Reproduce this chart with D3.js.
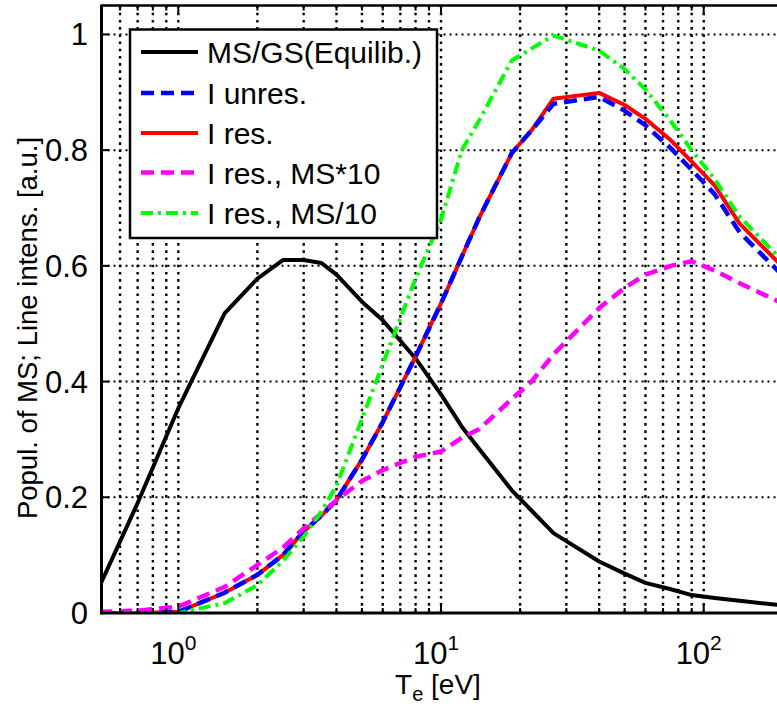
<!DOCTYPE html>
<html>
<head>
<meta charset="utf-8">
<script src="https://cdn.jsdelivr.net/npm/d3@7/dist/d3.min.js"></script>
<style>
  html, body { margin: 0; padding: 0; background: #fff; }
  svg { display: block; }
  text { font-family: "Liberation Sans", Arial, Helvetica, sans-serif; fill: #000; }
</style>
</head>
<body>
<svg id="chart" width="777" height="706"></svg>
<script>
// ---- data ----
const T = [0.5, 0.7, 1, 1.5, 2, 2.5, 3, 3.5, 4, 5, 6, 8, 10, 12, 14, 18.6, 22, 26.8, 40, 50, 60, 75, 90, 110, 137, 200];
const msgsEquilib = [0.045, 0.19, 0.354, 0.518, 0.578, 0.61, 0.61, 0.605, 0.585, 0.538, 0.506, 0.44, 0.378, 0.322, 0.283, 0.212, 0.178, 0.138, 0.089, 0.068, 0.052, 0.041, 0.031, 0.026, 0.021, 0.013];
const iUnres      = [0, 0, 0.002, 0.035, 0.066, 0.10, 0.141, 0.168, 0.195, 0.265, 0.33, 0.443, 0.535, 0.616, 0.684, 0.795, 0.833, 0.88, 0.892, 0.868, 0.843, 0.803, 0.766, 0.724, 0.658, 0.583];
const iRes        = [0, 0, 0.002, 0.035, 0.066, 0.10, 0.141, 0.168, 0.195, 0.265, 0.33, 0.443, 0.535, 0.616, 0.684, 0.795, 0.833, 0.889, 0.899, 0.878, 0.854, 0.817, 0.78, 0.739, 0.673, 0.598];
const iResMSx10   = [0.002, 0.004, 0.011, 0.045, 0.083, 0.113, 0.146, 0.172, 0.195, 0.228, 0.247, 0.27, 0.279, 0.303, 0.318, 0.37, 0.399, 0.447, 0.527, 0.562, 0.585, 0.60, 0.608, 0.592, 0.57, 0.535];
const iResMSdiv10 = [0, 0, 0, 0.017, 0.048, 0.09, 0.132, 0.175, 0.22, 0.335, 0.43, 0.578, 0.68, 0.80, 0.852, 0.955, 0.975, 0.998, 0.972, 0.94, 0.905, 0.85, 0.80, 0.75, 0.685, 0.608];
const seriesNames = ["MS/GS(Equilib.)", "I unres.", "I res.", "I res., MS*10", "I res., MS/10"];
const yTickLabels = ["0", "0.2", "0.4", "0.6", "0.8", "1"];
const xDecades = [1, 10, 100];
const xDecadeExp = ["0", "1", "2"];

// ---- layout ----
const svg = d3.select("#chart");
const L = 101.5, R = 782.8, TOP = 5.5, B = 613;
const x = d3.scaleLog().domain([0.51, 200]).range([L, R]);
const y = d3.scaleLinear().domain([0, 1.05]).range([B, TOP]);

svg.append("defs").append("clipPath").attr("id", "plotclip")
  .append("rect").attr("x", L).attr("y", TOP).attr("width", R - L).attr("height", B - TOP);

// grid
const gx = x.ticks();
const grid = svg.append("g");
grid.selectAll("line.vg").data(gx).enter().append("line")
  .attr("x1", d => x(d)).attr("x2", d => x(d))
  .attr("y1", TOP).attr("y2", B)
  .attr("stroke", "#000").attr("stroke-width", 2.4)
  .attr("stroke-dasharray", "2.6,4.6");
const yTicks = y.ticks(6).filter(v => v <= 1.0001);
grid.selectAll("line.hg").data(yTicks).enter().append("line")
  .attr("x1", L).attr("x2", R)
  .attr("y1", d => y(d)).attr("y2", d => y(d))
  .attr("stroke", "#000").attr("stroke-width", 2)
  .attr("stroke-dasharray", "2,4");

// curves
const series = [
  { vals: msgsEquilib, color: "#000000", dash: null, w: 4 },
  { vals: iRes, color: "#ff0000", dash: null, w: 4 },
  { vals: iUnres, color: "#0000ff", dash: "13,7", w: 4.5 },
  { vals: iResMSx10, color: "#ff00ff", dash: "13,7", w: 4.5 },
  { vals: iResMSdiv10, color: "#00ff00", dash: "12,5,3,5", w: 4 }
];
const line = d3.line().x(d => x(d[0])).y(d => y(d[1]));
const plot = svg.append("g").attr("clip-path", "url(#plotclip)");
series.forEach(s => {
  plot.append("path")
    .datum(T.map((t, i) => [t, s.vals[i]]))
    .attr("d", line)
    .attr("fill", "none")
    .attr("stroke", s.color)
    .attr("stroke-width", s.w)
    .attr("stroke-linejoin", "round")
    .attr("stroke-dasharray", s.dash);
});

// axes lines
const ax = svg.append("g");
ax.append("line").attr("x1", L).attr("x2", 777).attr("y1", B).attr("y2", B).attr("stroke", "#000").attr("stroke-width", 3);
ax.append("line").attr("x1", L).attr("x2", 777).attr("y1", TOP).attr("y2", TOP).attr("stroke", "#000").attr("stroke-width", 2.5);
ax.append("line").attr("x1", L).attr("x2", L).attr("y1", TOP - 1).attr("y2", B + 1.5).attr("stroke", "#000").attr("stroke-width", 3);
// ticks
ax.selectAll("line.mt").data(gx).enter().append("line")
  .attr("x1", d => x(d)).attr("x2", d => x(d))
  .attr("y1", B).attr("y2", d => B - (xDecades.includes(d) ? 9 : 5))
  .attr("stroke", "#000").attr("stroke-width", 2);
ax.selectAll("line.mtt").data(gx).enter().append("line")
  .attr("x1", d => x(d)).attr("x2", d => x(d))
  .attr("y1", TOP).attr("y2", d => TOP + (xDecades.includes(d) ? 9 : 5))
  .attr("stroke", "#000").attr("stroke-width", 2);
ax.selectAll("line.yt").data(yTicks).enter().append("line")
  .attr("x1", L).attr("x2", L + 8)
  .attr("y1", d => y(d)).attr("y2", d => y(d))
  .attr("stroke", "#000").attr("stroke-width", 2);

// tick labels
ax.selectAll("text.yl").data(yTicks).enter().append("text")
  .attr("x", 88).attr("y", d => y(d) + 11)
  .attr("text-anchor", "end")
  .style("font-size", "31px")
  .text((d, i) => yTickLabels[i]);
xDecades.forEach((d, i) => {
  const t = ax.append("text").attr("x", x(d) - 5).attr("y", 664)
    .attr("text-anchor", "middle").style("font-size", "31px");
  t.append("tspan").text("10");
  t.append("tspan").attr("dy", -14).style("font-size", "21px").text(xDecadeExp[i]);
});

// axis labels
const xl = svg.append("text").attr("x", 438).attr("y", 694).attr("text-anchor", "middle").style("font-size", "28px");
xl.append("tspan").text("T");
xl.append("tspan").attr("dy", 7).style("font-size", "20px").text("e");
xl.append("tspan").attr("dy", -7).text(" [eV]");
svg.append("text")
  .attr("transform", "translate(37,328) rotate(-90)")
  .attr("text-anchor", "middle")
  .style("font-size", "27.5px")
  .text("Popul. of MS; Line intens. [a.u.]");

// legend
const lg = svg.append("g");
lg.append("rect").attr("x", 130).attr("y", 29.5).attr("width", 307).attr("height", 208.5)
  .attr("fill", "#fff").attr("stroke", "#000").attr("stroke-width", 2.5);
const legendSeries = [series[0], series[2], series[1], series[3], series[4]];
const rowY = [52, 93, 133, 172.5, 213];
legendSeries.forEach((s, i) => {
  lg.append("line").attr("x1", 141).attr("x2", 198).attr("y1", rowY[i]).attr("y2", rowY[i])
    .attr("stroke", s.color).attr("stroke-width", s.w)
    .attr("stroke-dasharray", s.dash);
  lg.append("text").attr("x", 207).attr("y", rowY[i] + 11)
    .style("font-size", "30px").text(seriesNames[i]);
});
</script>
</body>
</html>
